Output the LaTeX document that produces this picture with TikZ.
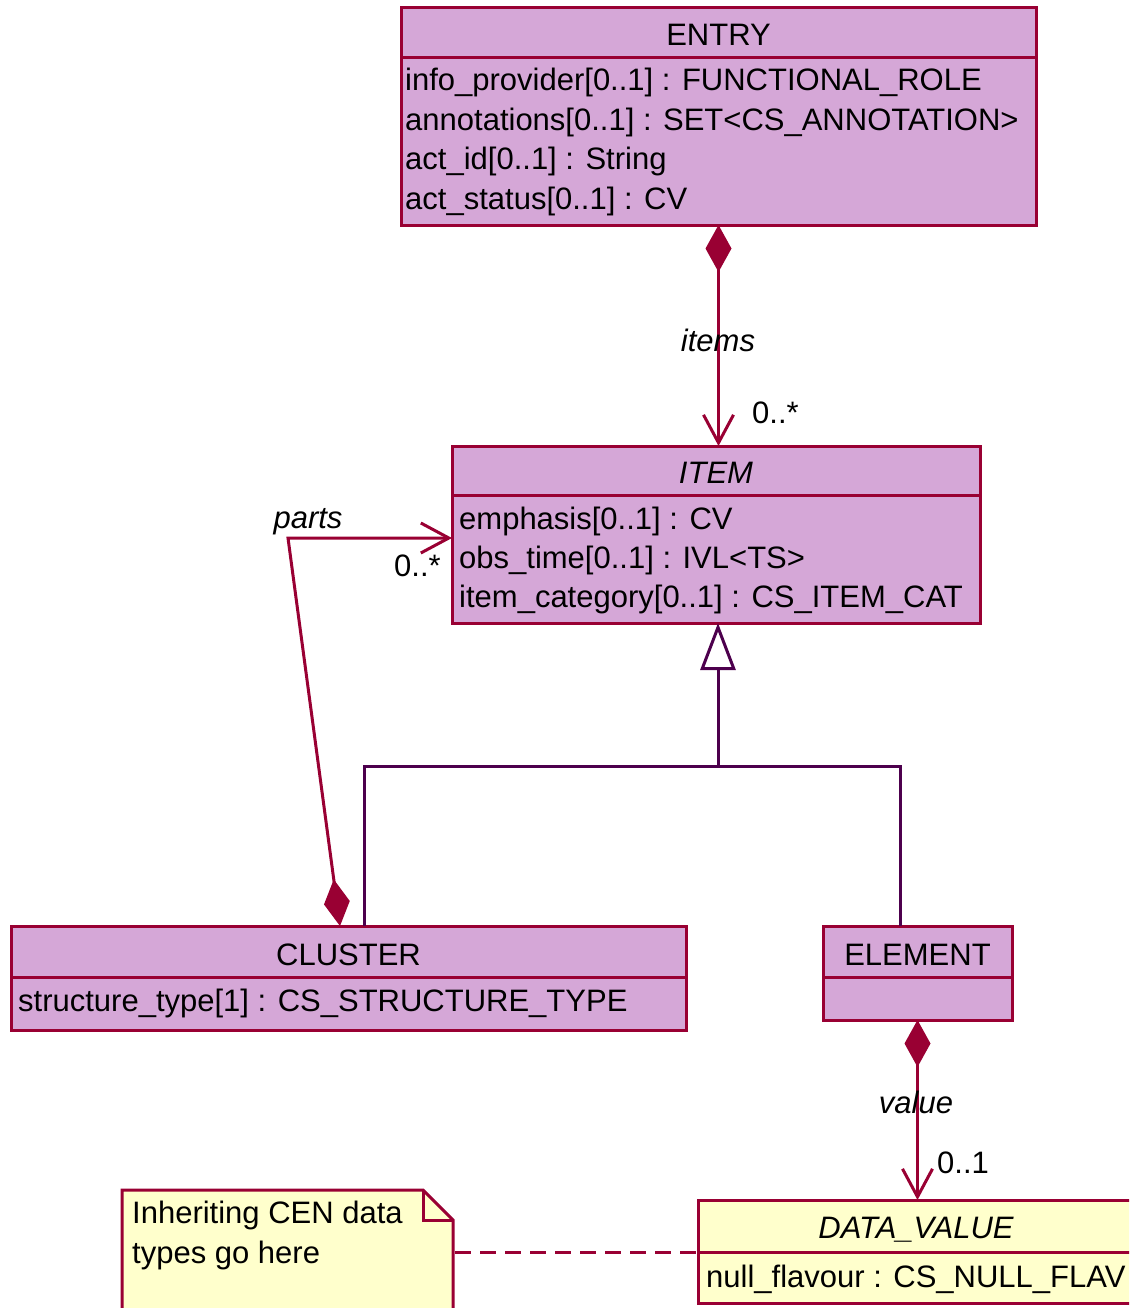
\documentclass[tikz,border=0pt]{standalone}
\usepackage{fontspec}
\setmainfont{Liberation Sans}
\usetikzlibrary{arrows.meta}
\definecolor{boxfill}{RGB}{213,167,215}
\definecolor{boxline}{RGB}{153,0,51}
\definecolor{genline}{RGB}{77,0,77}
\definecolor{notefill}{RGB}{255,255,204}
\begin{document}
\begin{tikzpicture}[x=1pt,y=-1pt,
  umlbox/.style={draw=boxline, line width=3pt, fill=boxfill, inner sep=0pt, outer sep=0pt, anchor=north west},
  dtbox/.style={umlbox, fill=notefill},
  divider/.style={draw=boxline, line width=3pt},
  txt/.style={inner sep=0pt, font=\fontsize{31}{37}\selectfont},
  attr/.style={txt, anchor=base west},
  cname/.style={txt, anchor=base},
  iname/.style={cname, font=\fontsize{31}{37}\selectfont\itshape},
  assoc/.style={draw=boxline, line width=3pt,
    {Diamond[length=47pt,width=26pt,fill=boxline]}-{Straight Barb[length=28pt,width=30pt,line width=3pt]}},
  gen/.style={draw=genline, line width=3pt},
]
\useasboundingbox (0,0) rectangle (1129,1308);
\clip (0,0) rectangle (1129,1308);

% ENTRY class
\node[umlbox, minimum width=635pt, minimum height=217pt] (entry) at (401,8) {};
\draw[divider] (401,58) -- (1036,58);
\node[cname] (entryname) at (718.5,46) {ENTRY};
\node[attr] (e1) at (405,91) {info\_provider[0..1] : FUNCTIONAL\_ROLE};
\node[attr] (e2) at (405,131) {annotations[0..1] : SET<CS\_ANNOTATION>};
\node[attr] (e3) at (405,170) {act\_id[0..1] : String};
\node[attr] (e4) at (405,209) {act\_status[0..1] : CV};

% ITEM class
\node[umlbox, minimum width=528pt, minimum height=177pt] (item) at (452,446) {};
\draw[divider] (452,495) -- (980,495);
\node[iname] (itemname) at (716,483) {ITEM};
\node[attr] (i1) at (459,529) {emphasis[0..1] : CV};
\node[attr] (i2) at (459,568) {obs\_time[0..1] : IVL<TS>};
\node[attr] (i3) at (459,607) {item\_category[0..1] : CS\_ITEM\_CAT};

% CLUSTER class
\node[umlbox, minimum width=675pt, minimum height=104pt] (cluster) at (11,926) {};
\draw[divider] (11,977) -- (686,977);
\node[cname] (clustername) at (348.5,965) {CLUSTER};
\node[attr] (c1) at (18,1011) {structure\_type[1] : CS\_STRUCTURE\_TYPE};

% ELEMENT class
\node[umlbox, minimum width=189pt, minimum height=94pt] (element) at (823,926) {};
\draw[divider] (823,977) -- (1012,977);
\node[cname] (elementname) at (917.5,965) {ELEMENT};

% DATA_VALUE class
\node[dtbox, minimum width=436pt, minimum height=103pt] (datavalue) at (698,1200) {};
\draw[divider] (698,1252) -- (1134,1252);
\node[iname] (dvname) at (916,1238) {DATA\_VALUE};
\node[attr] (d1) at (706,1287) {null\_flavour : CS\_NULL\_FLAV};

% note with folded corner
\draw[draw=boxline, line width=3pt, fill=notefill, line join=miter]
  (122,1190) -- (423,1190) -- (453,1220) -- (453,1330) -- (122,1330) -- cycle;
\draw[draw=boxline, line width=3pt] (423,1190) -- (423,1220) -- (453,1220);
\coordinate (noteR) at (455,1252);
\node[attr] (n1) at (132,1223) {Inheriting CEN data};
\node[attr] (n2) at (132,1263) {types go here};
\draw[draw=boxline, line width=3pt, dash pattern=on 16pt off 9pt] (noteR) -- (noteR -| datavalue.west);

% items association
\draw[assoc] (entry.south) -- (entry.south |- item.north);
\node[iname] (itemslbl) at (718,351) {items};
\node[attr] (itemsmult) at (752,423) {0..*};

% generalisation of CLUSTER and ELEMENT to ITEM
\coordinate (gj) at (718,766);
\draw[gen] ([xshift=15.5pt]cluster.north) |- (gj) -| ([xshift=-17.5pt]element.north);
\draw[gen, -{Triangle[open, fill=white, length=47pt, width=35pt, line width=3pt]}] (gj) -- (gj |- item.south);

% parts association
\coordinate (pbend) at (288,538);
\draw[assoc, line join=miter] ([xshift=-8.5pt]cluster.north) -- (pbend) -- (pbend -| item.west);
\node[iname] (partslbl) at (308,528) {parts};
\node[attr] (partsmult) at (394,576) {0..*};

% value association
\draw[assoc] (element.south) -- (element.south |- datavalue.north);
\node[iname] (valuelbl) at (916,1113) {value};
\node[attr] (valuemult) at (937,1173) {0..1};
\end{tikzpicture}
\end{document}
